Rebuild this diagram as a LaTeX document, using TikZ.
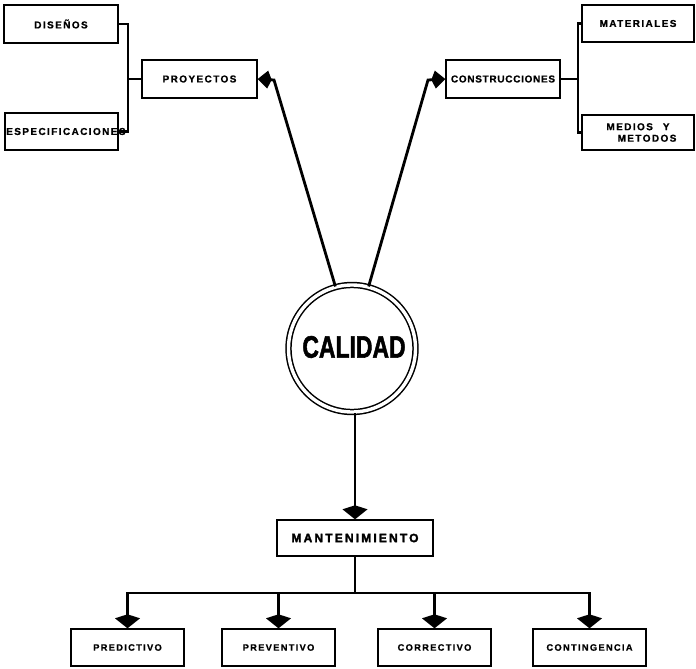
\documentclass[tikz,border=0pt]{standalone}
\usepackage{fontspec}
\setmainfont{Liberation Sans}
\newfontfamily\lblfont{Liberation Sans}[LetterSpace=14, BoldFeatures={FakeBold=0.8}]
\newfontfamily\lblfontn{Liberation Sans}[LetterSpace=7, BoldFeatures={FakeBold=0.8}]
\newfontfamily\bigfont{Liberation Sans}[LetterSpace=18, BoldFeatures={FakeBold=2.5}]
\newfontfamily\calfont{Liberation Sans}[BoldFeatures={FakeBold=2}]
\usetikzlibrary{arrows.meta}
\tikzset{
  box/.style={draw, line width=1.4pt, minimum width=113pt, minimum height=37pt,
    inner sep=0pt, font=\lblfont\bfseries\fontsize{10}{12}\selectfont},
  smallbox/.style={box, font=\lblfont\bfseries\fontsize{9.3}{12}\selectfont},
  lbl/.style={inner sep=0pt, font=\lblfont\bfseries\fontsize{10}{12}\selectfont},
  conn/.style={line width=2.8pt},
  tipdown/.style={-{Kite[length=14pt,width=25pt,inset=4pt]}},
  tipside/.style={-{Kite[length=14pt,width=18pt,inset=4pt]}},
}
\begin{document}
\begin{tikzpicture}[x=1pt,y=-1pt]
\useasboundingbox (0,0) rectangle (696,669);

% top left group
\node[box, minimum width=114pt, minimum height=38pt] (dis) at (61,24) {DISEÑOS};
\node[box, minimum width=113pt] (esp) at (61.5,131.5) {};
\node[lbl, anchor=west] (espl) at (6,131.5) {ESPECIFICACIONES};
\node[box, minimum width=115pt, minimum height=38pt] (proy) at (199.5,79) {PROYECTOS};
\coordinate (lb) at (128,79);
\draw[conn] (dis.east) -| (lb) |- (esp.east);
\draw[conn] (proy.west) -- (lb);

% top right group
\node[box, minimum width=114pt, minimum height=38pt,
      font=\lblfontn\bfseries\fontsize{10}{12}\selectfont] (cons) at (503,79) {CONSTRUCCIONES};
\node[box, minimum width=112pt, minimum height=37pt] (mat) at (638,23.5) {MATERIALES};
\node[box, minimum width=112pt, minimum height=35pt, align=center,
      font=\lblfont\bfseries\fontsize{10}{11.5}\selectfont] (med) at (638,132.5)
      {MEDIOS\quad Y\\\hspace*{18pt}METODOS};
\coordinate (rb) at (578,79);
\draw[conn] (mat.west) -| (rb) |- (med.west);
\draw[conn] (cons.east) -- (rb);

% center
\node[circle, draw, double, line width=1.5pt, double distance=3.4pt,
      minimum size=127pt, inner sep=0pt] (cal) at (352,348.5) {};
\node[inner sep=0pt, font=\calfont\bfseries\fontsize{31}{34}\selectfont] (caltxt) at (354,347)
      {\scalebox{0.74}[1]{CALIDAD}};

\coordinate (pl) at (274,80);
\coordinate (pr) at (428,80);
\draw[conn, tipside] (cal.105) -- (pl) -- (proy.east);
\draw[conn, tipside] (cal.75) -- (pr) -- (cons.west);

% bottom
\node[box, minimum width=156pt, minimum height=36pt,
      font=\bigfont\bfseries\fontsize{12}{14}\selectfont] (mant) at (355,538) {MANTENIMIENTO};
\draw[conn, tipdown] (cal.south -| mant.north) -- (mant.north);

\coordinate (bar) at (355,593);
\draw[conn] (mant.south) -- (bar);

\node[smallbox] (pre) at (127.5,647.5) {PREDICTIVO};
\node[smallbox] (prev) at (278.5,647.5) {PREVENTIVO};
\node[smallbox] (cor) at (434.5,647.5) {CORRECTIVO};
\node[smallbox] (con) at (589.5,647.5) {CONTINGENCIA};

\draw[conn, tipdown] (bar) -| (pre.north);
\draw[conn, tipdown] (bar) -| (prev.north);
\draw[conn, tipdown] (bar) -| (cor.north);
\draw[conn, tipdown] (bar) -| (con.north);
\end{tikzpicture}
\end{document}
